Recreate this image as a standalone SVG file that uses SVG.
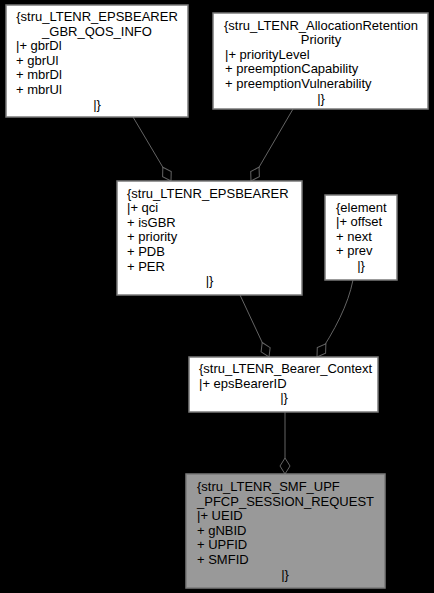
<svg xmlns="http://www.w3.org/2000/svg" width="434" height="593" viewBox="0 0 434 593">
<style>
.bg{fill:#000000}
.box{fill:#ffffff;stroke:#7a7a7a;stroke-width:1.5}
.root{fill:#999999;stroke:#7a7a7a;stroke-width:1.5}
text{font-family:"Liberation Sans",Arial,sans-serif;font-size:13px;fill:#000000}
.c{text-anchor:middle}
.edge{fill:none;stroke:#646464;stroke-width:1}
</style>
<defs>
<marker id="odiamond" markerUnits="userSpaceOnUse" markerWidth="18" markerHeight="12" viewBox="-1 -6 18 12" refX="16" refY="0" orient="auto">
<path d="M0,0 L8,-5 L16,0 L8,5 Z" fill="#000000" stroke="#646464" stroke-width="1"/>
</marker>
</defs>
<rect class="bg" x="0" y="0" width="434" height="593"/>
<g id="connectors">
<path class="edge" d="M133,117 L171,181" marker-end="url(#odiamond)"/>
<path class="edge" d="M293,109 L251,181" marker-end="url(#odiamond)"/>
<path class="edge" d="M240,295 L269,357" marker-end="url(#odiamond)"/>
<path class="edge" d="M353,280 C348,305 335,330 317,357" marker-end="url(#odiamond)"/>
<path class="edge" d="M285,412 L285,474" marker-end="url(#odiamond)"/>
</g>
<g id="node_gbr_qos_info">
<rect class="box" x="6" y="5" width="182" height="112"/>
<text class="c" x="97" y="21">{stru_LTENR_EPSBEARER</text>
<text class="c" x="97" y="35.6">_GBR_QOS_INFO</text>
<text x="16" y="50.2">|+ gbrDl</text>
<text x="16" y="64.8">+ gbrUl</text>
<text x="16" y="79.4">+ mbrDl</text>
<text x="16" y="94">+ mbrUl</text>
<text class="c" x="97" y="108.6">|}</text>
</g>
<g id="node_allocation_retention_priority">
<rect class="box" x="213" y="13" width="215" height="96"/>
<text class="c" x="321" y="29.5">{stru_LTENR_AllocationRetention</text>
<text class="c" x="321" y="44.1">Priority</text>
<text x="225" y="58.7">|+ priorityLevel</text>
<text x="225" y="73.3">+ preemptionCapability</text>
<text x="225" y="87.9">+ preemptionVulnerability</text>
<text class="c" x="321" y="102.5">|}</text>
</g>
<g id="node_epsbearer">
<rect class="box" x="117" y="181" width="185" height="114"/>
<text x="127" y="197.5">{stru_LTENR_EPSBEARER</text>
<text x="127" y="212.1">|+ qci</text>
<text x="127" y="226.7">+ isGBR</text>
<text x="127" y="241.3">+ priority</text>
<text x="127" y="255.9">+ PDB</text>
<text x="127" y="270.5">+ PER</text>
<text class="c" x="209.5" y="285.1">|}</text>
</g>
<g id="node_element">
<rect class="box" x="325" y="195" width="72" height="85"/>
<text x="336" y="211.5">{element</text>
<text x="336" y="226.1">|+ offset</text>
<text x="336" y="240.7">+ next</text>
<text x="336" y="255.3">+ prev</text>
<text class="c" x="361" y="269.9">|}</text>
</g>
<g id="node_bearer_context">
<rect class="box" x="189" y="357" width="189" height="55"/>
<text x="199" y="373">{stru_LTENR_Bearer_Context</text>
<text x="199" y="387.6">|+ epsBearerID</text>
<text class="c" x="284" y="402.2">|}</text>
</g>
<g id="node_pfcp_session_request">
<rect class="root" x="186" y="474" width="199" height="114"/>
<text x="197" y="491">{stru_LTENR_SMF_UPF</text>
<text x="197" y="505.6">_PFCP_SESSION_REQUEST</text>
<text x="197" y="520.2">|+ UEID</text>
<text x="197" y="534.8">+ gNBID</text>
<text x="197" y="549.4">+ UPFID</text>
<text x="197" y="564">+ SMFID</text>
<text class="c" x="285" y="578.6">|}</text>
</g>
</svg>
